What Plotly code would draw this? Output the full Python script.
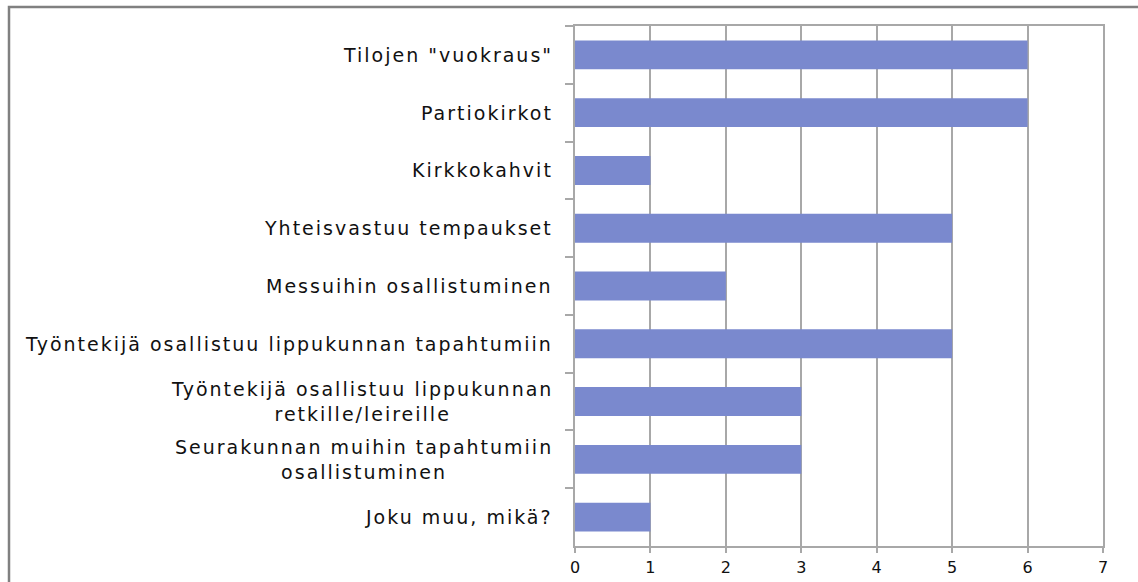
import plotly.graph_objects as go

categories = [
    'Tilojen "vuokraus"',
    "Partiokirkot",
    "Kirkkokahvit",
    "Yhteisvastuu tempaukset",
    "Messuihin osallistuminen",
    "Työntekijä osallistuu lippukunnan tapahtumiin",
    "Työntekijä osallistuu lippukunnan<br>retkille/leireille",
    "Seurakunnan muihin tapahtumiin<br>osallistuminen",
    "Joku muu, mikä?",
]
values = [6, 6, 1, 5, 2, 5, 3, 3, 1]
x_ticks = [0, 1, 2, 3, 4, 5, 6, 7]

W, H = 1138, 582
L, R, T, B = 575, 35, 26, 36
pw, ph = W - L - R, H - T - B

fig = go.Figure(
    go.Bar(
        x=values,
        y=categories,
        orientation="h",
        marker=dict(color="#7A89CE", line=dict(width=0)),
        width=0.5,
    )
)

grid = "#a8a8a8"
fig.update_layout(
    width=W,
    height=H,
    autosize=False,
    margin=dict(l=L, r=R, t=T, b=B, pad=0, autoexpand=False),
    paper_bgcolor="white",
    plot_bgcolor="white",
    showlegend=False,
    font=dict(family="DejaVu Sans", color="#111111"),
    xaxis=dict(
        range=[0, 7],
        tickvals=x_ticks,
        ticktext=[str(v) for v in x_ticks],
        automargin=False,
        showgrid=True,
        gridcolor=grid,
        gridwidth=1.5,
        zeroline=False,
        showline=True,
        linecolor=grid,
        linewidth=1.5,
        mirror=True,
        ticks="outside",
        ticklen=5,
        tickcolor=grid,
        tickwidth=1.5,
        ticklabelstandoff=1,
        tickfont=dict(size=16, family="DejaVu Sans", color="#111111"),
    ),
    yaxis=dict(
        autorange="reversed",
        automargin=False,
        showgrid=False,
        zeroline=False,
        showline=True,
        linecolor=grid,
        linewidth=1.5,
        mirror=True,
        ticks="outside",
        tickson="boundaries",
        ticklen=8,
        tickcolor=grid,
        tickwidth=1.5,
        showticklabels=False,
    ),
)

for c in categories:
    styled = "<br>".join(
        '<span style="letter-spacing:2px">' + part + "</span>" for part in c.split("<br>")
    )
    fig.add_annotation(
        x=-20 / pw,
        xref="paper",
        y=c,
        yref="y",
        text=styled,
        showarrow=False,
        xanchor="right",
        yanchor="middle",
        align="center",
        font=dict(size=19, family="DejaVu Sans", color="#111111"),
    )

# outer frame
fig.add_shape(
    type="rect",
    xref="paper",
    yref="paper",
    x0=(9 - L) / pw,
    x1=(W + 10 - L) / pw,
    y0=-(B + 10) / ph,
    y1=(H - B - 7) / ph,
    line=dict(color="#808080", width=2.5),
    fillcolor="rgba(0,0,0,0)",
    layer="above",
)

fig.write_html(
    "out.html",
    config={"displayModeBar": False, "responsive": False},
    post_script="document.body.style.margin='0';document.body.style.overflow='hidden';",
)
